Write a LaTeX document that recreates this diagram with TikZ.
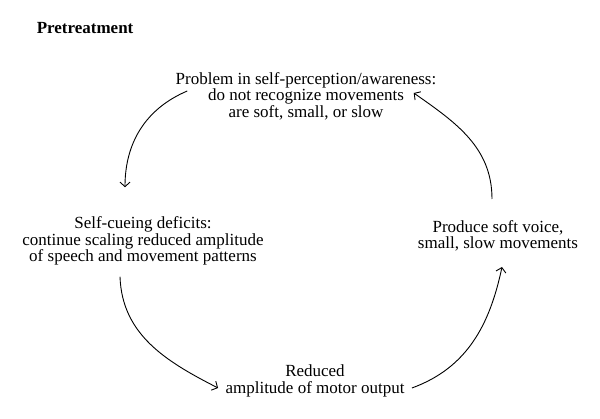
\documentclass[tikz,border=0pt]{standalone}
\usepackage{fontspec}
\setmainfont{Liberation Serif}
\usetikzlibrary{arrows.meta}
\begin{document}
\begin{tikzpicture}[
        x=1pt, y=1pt,
        line width=0.9pt,
        font=\fontsize{17}{16.5}\selectfont
    ]
    \tikzset{
        cyclenode/.style = {align=center, inner sep=0pt},
        cyclearrow/.style = {-{Straight Barb[length=4.5pt,width=10pt]}},
    }
    \useasboundingbox (0,0) rectangle (600,419);
    \node[anchor=base west, font=\fontsize{17}{16.5}\selectfont\bfseries] (title) at (33,385) {Pretreatment};
    \node[cyclenode] (problem) at (306,323) {Problem in self-perception/awareness:\\do not recognize movements\\are soft, small, or slow};
    \node[cyclenode] (selfcue) at (143,178) {Self-cueing deficits:\\continue scaling reduced amplitude\\of speech and movement patterns};
    \node[cyclenode] (produce) at (498,183) {Produce soft voice,\\small, slow movements};
    \node[cyclenode] (reduced) at (315,38) {Reduced\\amplitude of motor output};
    % the cycle
    \draw[cyclearrow] ([xshift=12pt,yshift=5pt]problem.west) to[out=203,in=90] ([xshift=-18pt,yshift=29pt]selfcue.north);
    \draw[cyclearrow] ([xshift=-23pt,yshift=-11pt]selfcue.south) to[out=-88,in=153] ([xshift=-7pt,yshift=-7pt]reduced.west);
    \draw[cyclearrow] ([xshift=7pt,yshift=-7pt]reduced.east) to[out=20,in=-102] ([xshift=4pt,yshift=-15pt]produce.south);
    \draw[cyclearrow] ([xshift=-6pt,yshift=21pt]produce.north) to[out=90,in=-35] ([xshift=-23pt,yshift=3pt]problem.east);
\end{tikzpicture}
\end{document}
